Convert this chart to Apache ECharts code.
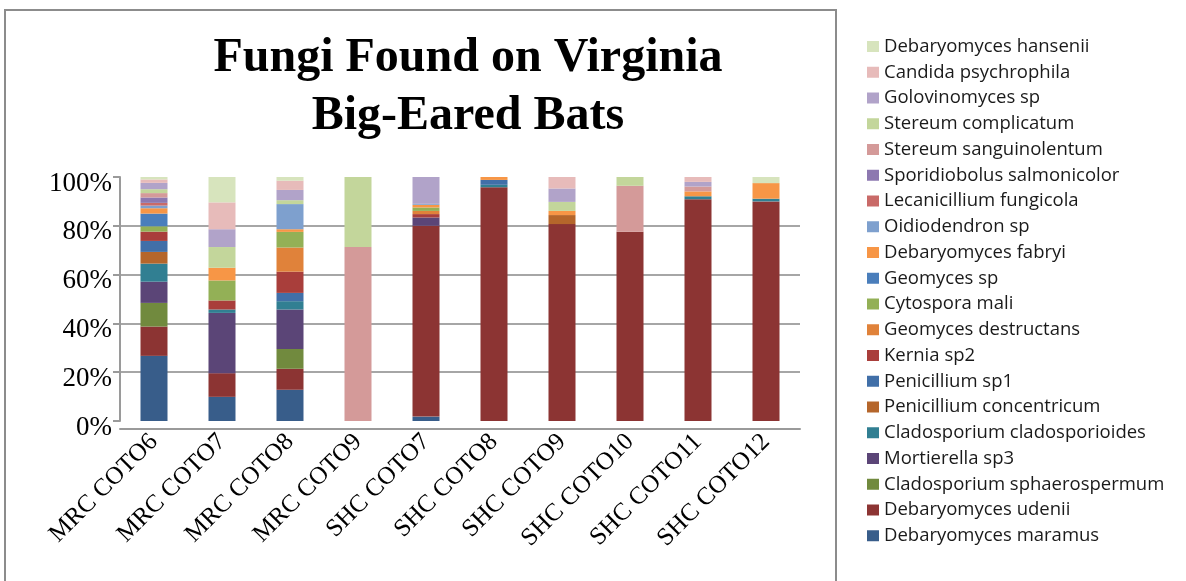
<!DOCTYPE html>
<html>
<head>
<meta charset="utf-8">
<script src="https://cdn.jsdelivr.net/npm/echarts@6/dist/echarts.min.js"></script>
<style>
  html, body { margin: 0; padding: 0; background: #ffffff; }
  #chart { width: 1186px; height: 581px; }
</style>
</head>
<body>
<div id="chart"></div>
<script>
// Sampling sites (x axis)
const categories = ['MRC COTO6', 'MRC COTO7', 'MRC COTO8', 'MRC COTO9', 'SHC COTO7',
                    'SHC COTO8', 'SHC COTO9', 'SHC COTO10', 'SHC COTO11', 'SHC COTO12'];

// Share of each taxon per site, in percent (stack order: bottom to top)
const debaryomycesMaramus        = [26.7,  9.9, 12.8,  0.0,  1.8,  0.0,  0.0,  0.0,  0.0,  0.0];
const debaryomycesUdenii         = [12.0,  9.7,  8.6,  0.0, 78.2, 95.8, 80.7, 77.6, 90.9, 90.0];
const cladosporiumSphaerospermum = [ 9.7,  0.0,  8.1,  0.0,  0.0,  0.0,  0.0,  0.0,  0.0,  0.0];
const mortierellaSp3             = [ 8.7, 24.7, 16.2,  0.0,  3.4,  0.0,  0.0,  0.0,  0.0,  0.0];
const cladosporiumCladosporioides= [ 7.4,  1.4,  3.4,  0.0,  0.0,  1.0,  0.0,  0.0,  1.2,  1.1];
const penicilliumConcentricum    = [ 4.8,  0.0,  0.0,  0.0,  0.0,  0.0,  3.7,  0.0,  0.0,  0.0];
const penicilliumSp1             = [ 4.5,  0.0,  3.4,  0.0,  0.0,  2.0,  0.0,  0.0,  0.0,  0.0];
const kerniaSp2                  = [ 3.8,  3.7,  8.7,  0.0,  1.4,  0.0,  0.0,  0.0,  0.0,  0.0];
const geomycesDestructans        = [ 0.0,  0.0,  9.9,  0.0,  1.3,  0.0,  0.0,  0.0,  0.0,  0.0];
const cytosporaMali              = [ 2.2,  8.2,  6.4,  0.0,  1.4,  0.0,  0.0,  0.0,  0.0,  0.0];
const geomycesSp                 = [ 5.2,  0.0,  0.0,  0.0,  0.0,  0.0,  0.0,  0.0,  0.0,  0.0];
const debaryomycesFabryi         = [ 2.2,  5.2,  1.1,  0.0,  1.1,  1.2,  1.7,  0.0,  2.0,  6.4];
const oidiodendronSp             = [ 1.1,  0.0, 10.3,  0.0,  0.4,  0.0,  0.0,  0.0,  0.0,  0.0];
const lecanicilliumFungicola     = [ 1.1,  0.0,  0.0,  0.0,  0.0,  0.0,  0.0,  0.0,  0.0,  0.0];
const sporidiobolusSalmonicolor  = [ 2.2,  0.0,  0.0,  0.0,  0.0,  0.0,  0.0,  0.0,  0.0,  0.0];
const stereumSanguinolentum      = [ 1.8,  0.0,  0.0, 71.3,  0.0,  0.0,  0.0, 18.8,  2.0,  0.0];
const stereumComplicatum         = [ 1.6,  8.5,  1.6, 28.7,  0.0,  0.0,  3.7,  3.6,  0.0,  0.0];
const golovinomycesSp            = [ 2.6,  7.3,  4.2,  0.0, 11.0,  0.0,  5.5,  0.0,  1.9,  0.0];
const candidaPsychrophila        = [ 1.4, 11.0,  3.8,  0.0,  0.0,  0.0,  4.7,  0.0,  2.0,  0.0];
const debaryomycesHansenii       = [ 1.0, 10.4,  1.5,  0.0,  0.0,  0.0,  0.0,  0.0,  0.0,  2.5];

// Y axis tick labels
const yTickLabels = ['0%', '20%', '40%', '60%', '80%', '100%'];

const taxa = [
  { name: 'Debaryomyces maramus',         values: debaryomycesMaramus,         color: '#385d8a' },
  { name: 'Debaryomyces udenii',          values: debaryomycesUdenii,          color: '#8c3433' },
  { name: 'Cladosporium sphaerospermum',  values: cladosporiumSphaerospermum,  color: '#718a3e' },
  { name: 'Mortierella sp3',              values: mortierellaSp3,              color: '#5b4577' },
  { name: 'Cladosporium cladosporioides', values: cladosporiumCladosporioides, color: '#317f92' },
  { name: 'Penicillium concentricum',     values: penicilliumConcentricum,     color: '#b5662b' },
  { name: 'Penicillium sp1',              values: penicilliumSp1,              color: '#416fa8' },
  { name: 'Kernia sp2',                   values: kerniaSp2,                   color: '#a93e3b' },
  { name: 'Geomyces destructans',         values: geomycesDestructans,         color: '#e0823a' },
  { name: 'Cytospora mali',               values: cytosporaMali,               color: '#93b056' },
  { name: 'Geomyces sp',                  values: geomycesSp,                  color: '#4a7ebb' },
  { name: 'Debaryomyces fabryi',          values: debaryomycesFabryi,          color: '#f79646' },
  { name: 'Oidiodendron sp',              values: oidiodendronSp,              color: '#7ea0ce' },
  { name: 'Lecanicillium fungicola',      values: lecanicilliumFungicola,      color: '#c96a68' },
  { name: 'Sporidiobolus salmonicolor',   values: sporidiobolusSalmonicolor,   color: '#8d78b0' },
  { name: 'Stereum sanguinolentum',       values: stereumSanguinolentum,       color: '#d49a99' },
  { name: 'Stereum complicatum',          values: stereumComplicatum,          color: '#c3d69b' },
  { name: 'Golovinomyces sp',             values: golovinomycesSp,             color: '#b1a3c9' },
  { name: 'Candida psychrophila',         values: candidaPsychrophila,         color: '#e7bbba' },
  { name: 'Debaryomyces hansenii',        values: debaryomycesHansenii,        color: '#d7e4bd' }
];

// 100% stacking: express each value as a share of its column total
const totals = categories.map((_, i) => taxa.reduce((s, t) => s + t.values[i], 0));

const series = taxa.map(t => ({
  name: t.name,
  type: 'bar',
  stack: 'total',
  barWidth: 27,
  itemStyle: { color: t.color },
  emphasis: { disabled: true },
  data: t.values.map((v, i) => +(v / totals[i] * 100).toFixed(3))
}));

const serif = '"Liberation Serif", "Times New Roman", serif';

const chart = echarts.init(document.getElementById('chart'), null, { renderer: 'canvas' });
chart.setOption({
  animation: false,
  backgroundColor: '#ffffff',
  color: taxa.map(t => t.color),
  title: {
    text: 'Fungi Found on Virginia\nBig-Eared Bats',
    left: 463,
    top: 25,
    textAlign: 'center',
    textStyle: {
      fontFamily: serif,
      fontSize: 48,
      fontWeight: 'bold',
      color: '#000000',
      lineHeight: 58
    }
  },
  graphic: [{
    type: 'rect',
    z: -1,
    shape: { x: 5, y: 10, width: 831, height: 620 },
    style: { fill: 'none', stroke: '#8c8c8c', lineWidth: 2 }
  }],
  legend: {
    orient: 'vertical',
    left: 862,
    top: 32,
    itemWidth: 12,
    itemHeight: 11,
    itemGap: 6.75,
    icon: 'rect',
    selectedMode: false,
    data: taxa.map(t => t.name).reverse(),
    textStyle: {
      fontFamily: '"Open Sans", sans-serif',
      fontSize: 18.5,
      lineHeight: 18,
      color: '#1a1a1a'
    }
  },
  grid: { left: 120, right: 386, top: 177, bottom: 160 },
  xAxis: {
    type: 'category',
    data: categories,
    offset: 8,
    axisLine: { show: true, onZero: false, lineStyle: { color: '#9a9a9a', width: 2 } },
    axisTick: { show: false },
    axisLabel: {
      rotate: 45,
      interval: 0,
      margin: 9,
      fontFamily: serif,
      fontSize: 25,
      color: '#000000'
    }
  },
  yAxis: {
    type: 'value',
    min: 0,
    max: 100,
    interval: 20,
    axisLine: { show: true, lineStyle: { color: '#9a9a9a', width: 2 } },
    axisTick: { show: true, length: 7, lineStyle: { color: '#9a9a9a', width: 2 } },
    splitLine: {
      show: true,
      showMinLine: false,
      showMaxLine: false,
      lineStyle: { color: '#a6a6a6', width: 2 }
    },
    axisLabel: {
      margin: 8,
      verticalAlign: 'top',
      lineHeight: 13,
      fontFamily: serif,
      fontSize: 27,
      color: '#000000',
      formatter: v => yTickLabels[Math.round(v / 20)]
    }
  },
  series: series
});
</script>
</body>
</html>
